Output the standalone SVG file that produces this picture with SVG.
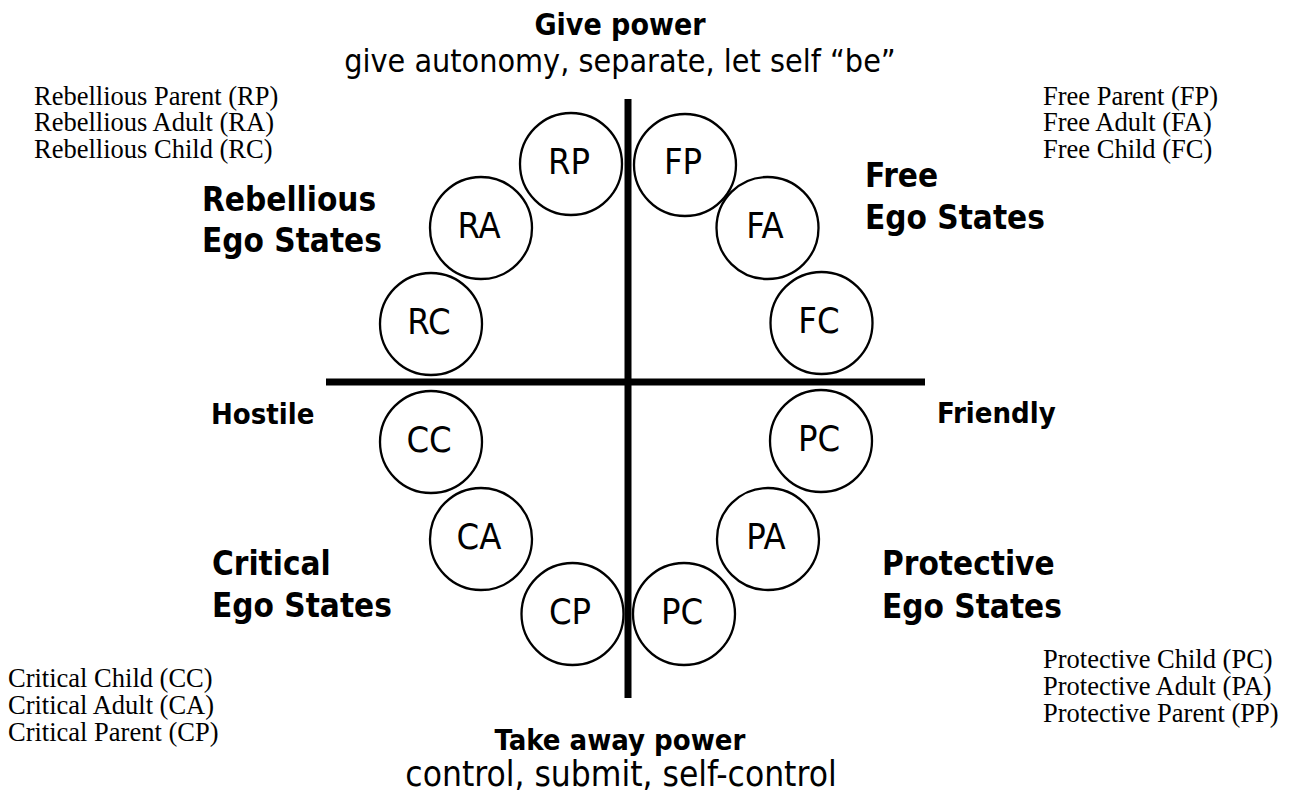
<svg xmlns="http://www.w3.org/2000/svg" width="1289" height="796" viewBox="0 0 1289 796">
<style>
.sans{font-family:"DejaVu Sans Condensed","DejaVu Sans",sans-serif;font-stretch:condensed;fill:#000}
.b{font-weight:bold}
.serif{font-family:"Liberation Serif","Times New Roman",serif;font-size:26.5px;fill:#000}
.node circle{fill:#fff;stroke:#000;stroke-width:2.3}
.node text{font-family:"DejaVu Sans Condensed","DejaVu Sans",sans-serif;font-stretch:condensed;font-size:36px;text-anchor:middle;fill:#000}
.axis{stroke:#000;stroke-width:7}
.mid{text-anchor:middle}
</style>
<rect width="1289" height="796" fill="#fff"/>
<g id="axes">
<line class="axis" x1="628" y1="99" x2="628" y2="698"/>
<line class="axis" x1="326" y1="382" x2="925" y2="382"/>
</g>
<g id="connectors"/>
<g id="node-RP" class="node"><circle cx="571" cy="164" r="51"/><text x="569" y="174">RP</text></g>
<g id="node-FP" class="node"><circle cx="685" cy="165" r="51"/><text x="683" y="174">FP</text></g>
<g id="node-RA" class="node"><circle cx="481" cy="228" r="51"/><text x="479" y="238">RA</text></g>
<g id="node-FA" class="node"><circle cx="767.5" cy="228" r="51"/><text x="765" y="238">FA</text></g>
<g id="node-RC" class="node"><circle cx="431" cy="324" r="51"/><text x="429" y="334">RC</text></g>
<g id="node-FC" class="node"><circle cx="821.5" cy="323" r="51"/><text x="819" y="333">FC</text></g>
<g id="node-CC" class="node"><circle cx="431" cy="442" r="51"/><text x="429" y="452">CC</text></g>
<g id="node-PC-right" class="node"><circle cx="821" cy="441" r="51"/><text x="819" y="451">PC</text></g>
<g id="node-CA" class="node"><circle cx="481" cy="539" r="51"/><text x="479" y="549">CA</text></g>
<g id="node-PA" class="node"><circle cx="768" cy="539" r="51"/><text x="766" y="549">PA</text></g>
<g id="node-CP" class="node"><circle cx="572.5" cy="614" r="51"/><text x="570" y="624">CP</text></g>
<g id="node-PC-bottom" class="node"><circle cx="684" cy="614" r="51"/><text x="682" y="624">PC</text></g>
<g id="labels">
<text class="sans b mid" x="620" y="35" font-size="30">Give power</text>
<text class="sans mid" x="620" y="72" font-size="32">give autonomy, separate, let self “be”</text>
<text class="sans b mid" x="620" y="750" font-size="29">Take away power</text>
<text class="sans mid" x="621" y="786" font-size="35">control, submit, self-control</text>
<text class="sans b" x="202" y="211" font-size="33">Rebellious</text>
<text class="sans b" x="202" y="252" font-size="33">Ego States</text>
<text class="sans b" x="865" y="187" font-size="33">Free</text>
<text class="sans b" x="865" y="229" font-size="33">Ego States</text>
<text class="sans b" x="212" y="575" font-size="33">Critical</text>
<text class="sans b" x="212" y="617" font-size="33">Ego States</text>
<text class="sans b" x="882" y="575" font-size="33">Protective</text>
<text class="sans b" x="882" y="618" font-size="33">Ego States</text>
<text class="sans b" x="211" y="424" font-size="29">Hostile</text>
<text class="sans b" x="937" y="423" font-size="29">Friendly</text>
<text class="serif" x="34" y="105">Rebellious Parent (RP)</text>
<text class="serif" x="34" y="131">Rebellious Adult (RA)</text>
<text class="serif" x="34" y="158">Rebellious Child (RC)</text>
<text class="serif" x="1043" y="105">Free Parent (FP)</text>
<text class="serif" x="1043" y="131">Free Adult (FA)</text>
<text class="serif" x="1043" y="158">Free Child (FC)</text>
<text class="serif" x="8" y="687">Critical Child (CC)</text>
<text class="serif" x="8" y="714">Critical Adult (CA)</text>
<text class="serif" x="8" y="741">Critical Parent (CP)</text>
<text class="serif" x="1043" y="668">Protective Child (PC)</text>
<text class="serif" x="1043" y="695">Protective Adult (PA)</text>
<text class="serif" x="1043" y="722">Protective Parent (PP)</text>
</g>
</svg>
